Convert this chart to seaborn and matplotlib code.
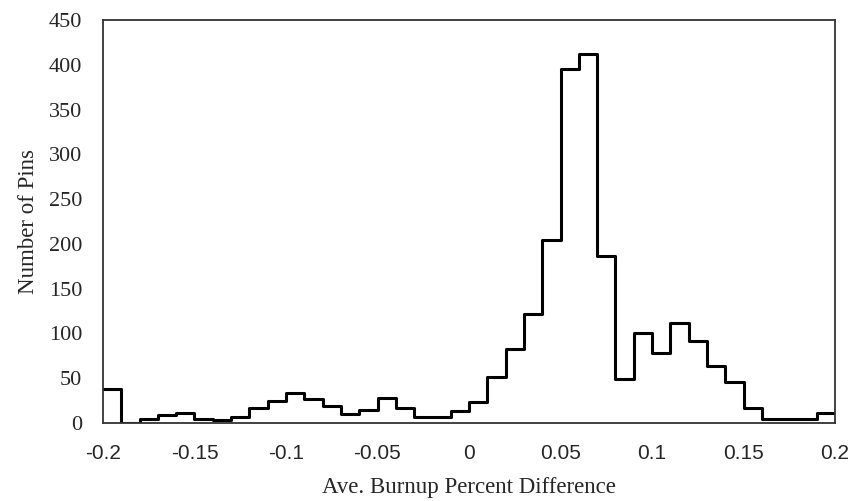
import numpy as np
import pandas as pd
import seaborn as sns
import matplotlib.pyplot as plt

# histogram counts per 0.01-wide bin, from -0.2 to 0.2
bin_left = np.round(np.arange(-0.20, 0.1999, 0.01), 2)
counts = [38, 0, 5, 9, 11, 5, 3, 7, 17, 25,
          33, 27, 19, 10, 15, 28, 17, 7, 7, 13,
          24, 51, 83, 122, 204, 395, 412, 186, 49, 101,
          78, 112, 92, 64, 46, 17, 4, 4, 5, 11]
xtick_vals = [-0.2, -0.15, -0.1, -0.05, 0, 0.05, 0.1, 0.15, 0.2]
xtick_labels = ["-0.2", "-0.15", "-0.1", "-0.05", "0", "0.05", "0.1", "0.15", "0.2"]
ytick_vals = [0, 50, 100, 150, 200, 250, 300, 350, 400, 450]

df = pd.DataFrame({"center": bin_left + 0.005, "count": counts})

sns.set_theme(style="white")

fig = plt.figure(figsize=(8.5, 5.01), dpi=100)
ax = fig.add_axes([103 / 850, 1 - 423 / 501, 732 / 850, 403 / 501])

sns.histplot(data=df, x="center", weights="count", binwidth=0.01,
             binrange=(-0.2, 0.2), element="step", fill=False,
             color="black", linewidth=2.2, ax=ax)

ax.set_xlim(-0.2, 0.2)
ax.set_ylim(0, 450)
ax.set_xticks(xtick_vals)
ax.set_xticklabels(xtick_labels, family="Liberation Sans", fontsize=15)
ax.set_yticks(ytick_vals)
ax.set_yticklabels([str(v) for v in ytick_vals], family="Liberation Serif", fontsize=16)
ax.tick_params(axis="both", length=0)
ax.tick_params(axis="y", pad=15)
ax.tick_params(axis="x", pad=15)

ax.set_xlabel("Ave. Burnup Percent Difference", family="Liberation Serif", fontsize=16.5, labelpad=10)
ax.set_ylabel("Number of Pins", family="Liberation Serif", fontsize=16.5, labelpad=7)

for s in ax.spines.values():
    s.set_visible(True)
    s.set_color("#333333")
    s.set_linewidth(1.3)

fig.savefig("out.png", dpi=100, facecolor="white")
